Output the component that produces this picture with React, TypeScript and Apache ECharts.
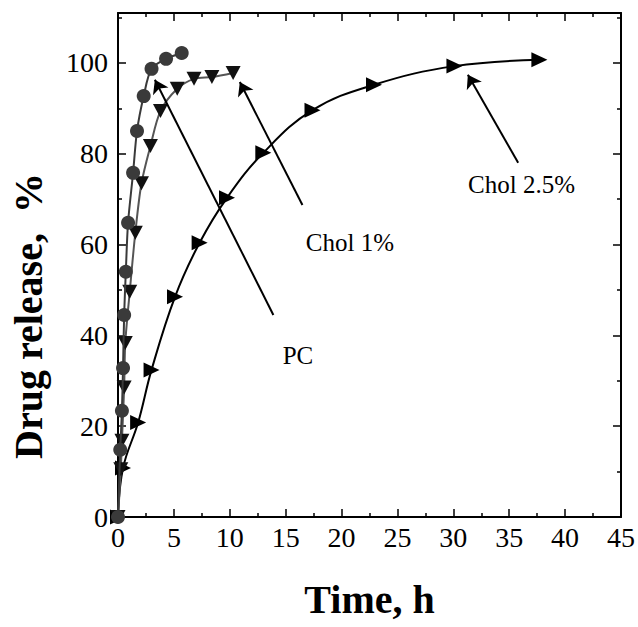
import React, { useEffect, useRef } from "react";
import * as echarts from "echarts";

const pcTime = [0, 0.2, 0.35, 0.45, 0.55, 0.7, 0.9, 1.35, 1.7, 2.3, 3.0, 4.3, 5.7];
const pcRelease = [0, 14.8, 23.4, 32.8, 44.5, 54, 64.8, 75.8, 85, 92.7, 98.7, 100.9, 102.2];

const chol1Time = [0, 0.25, 0.35, 0.55, 0.65, 1.05, 1.55, 2.1, 2.9, 3.8, 5.3, 6.8, 8.4, 10.3];
const chol1Release = [0, 10.5, 16.8, 28.5, 38.3, 49.6, 62.6, 73.5, 81.7, 89.4, 94.3, 96.5, 96.9, 97.8];

const chol25Time = [0, 0.45, 1.8, 3.0, 5.1, 7.3, 9.75, 13.0, 17.4, 22.9, 30.1, 37.7];
const chol25Release = [0, 10.8, 20.8, 32.4, 48.5, 60.4, 70.3, 80.2, 89.6, 95.2, 99.3, 100.7];

const xTicks = [0, 5, 10, 15, 20, 25, 30, 35, 40, 45];
const yTicks = [0, 20, 40, 60, 80, 100];

const annotationNames = ["PC", "Chol 1%", "Chol 2.5%"];
const arrowTails = [[13.9, 44.5], [16.5, 68.7], [35.8, 78]];
const arrowHeads = [[3.3, 96.3], [10.9, 95.8], [31.3, 97.4]];
const labelPoints = [[16.1, 35.5], [20.75, 60.4], [36.1, 73.3]];

const FONT = "'Liberation Serif', 'Times New Roman', serif";

const zip = (a: number[], b: number[]) => a.map((v, i) => [v, b[i]]);

const axisLine = () => ({ show: true, onZero: false, lineStyle: { color: "#000", width: 2 } });
const tick = () => ({ show: true, inside: true, length: 8, lineStyle: { color: "#000", width: 1.5 } });
const minor = () => ({ show: true, splitNumber: 2, length: 4, lineStyle: { color: "#000", width: 1.5 } });

export default function App() {
  const ref = useRef<HTMLDivElement>(null);
  useEffect(() => {
    if (!ref.current) return;
    const chart = echarts.init(ref.current, undefined, { renderer: "svg" });
    chart.setOption({
      animation: false,
      backgroundColor: "#fff",
      grid: { left: 118, right: 17, top: 13, bottom: 110, containLabel: false },
      xAxis: [
        {
          type: "value",
          min: 0,
          max: 45,
          interval: 5,
          position: "bottom",
          axisLine: axisLine(),
          axisTick: tick(),
          minorTick: minor(),
          splitLine: { show: false },
          minorSplitLine: { show: false },
          axisLabel: {
            color: "#000",
            fontFamily: FONT,
            fontSize: 28,
            margin: 6,
            formatter: (v: number) => (xTicks.includes(v) ? String(v) : ""),
          },
          name: "Time, h",
          nameLocation: "middle",
          nameGap: 62,
          nameTextStyle: { color: "#000", fontFamily: FONT, fontSize: 40, fontWeight: "bold" },
        },
        {
          type: "value",
          min: 0,
          max: 45,
          interval: 5,
          position: "top",
          axisLine: axisLine(),
          axisTick: tick(),
          minorTick: minor(),
          splitLine: { show: false },
          minorSplitLine: { show: false },
          axisLabel: { show: false },
        },
      ],
      yAxis: [
        {
          type: "value",
          min: 0,
          max: 111,
          interval: 20,
          position: "left",
          axisLine: axisLine(),
          axisTick: tick(),
          minorTick: minor(),
          splitLine: { show: false },
          minorSplitLine: { show: false },
          axisLabel: {
            color: "#000",
            fontFamily: FONT,
            fontSize: 28,
            margin: 10,
            formatter: (v: number) => (yTicks.includes(v) ? String(v) : ""),
          },
        },
        {
          type: "value",
          min: 0,
          max: 111,
          interval: 20,
          position: "right",
          axisLine: axisLine(),
          axisTick: tick(),
          minorTick: minor(),
          splitLine: { show: false },
          minorSplitLine: { show: false },
          axisLabel: { show: false },
        },
      ],
      graphic: [
        {
          type: "text",
          x: 28,
          y: 316,
          rotation: Math.PI / 2,
          style: {
            text: "Drug release,  %",
            fill: "#000",
            font: `bold 40px ${FONT}`,
            align: "center",
            verticalAlign: "middle",
          },
        },
      ],
      series: [
        {
          name: "Chol 2.5%",
          type: "line",
          data: zip(chol25Time, chol25Release),
          smooth: 0.4,
          symbol: "triangle",
          symbolSize: [15, 16],
          symbolRotate: -90,
          itemStyle: { color: "#000" },
          lineStyle: { color: "#000", width: 2 },
          z: 3,
          markLine: {
            silent: true,
            symbol: ["none", "arrow"],
            symbolSize: 13,
            label: { show: false },
            itemStyle: { color: "#000" },
            lineStyle: { color: "#000", width: 2, type: "solid" },
            data: arrowTails.map((t, i) => [{ coord: t }, { coord: arrowHeads[i] }]),
          },
          markPoint: {
            silent: true,
            symbol: "circle",
            symbolSize: 0,
            label: {
              show: true,
              position: "inside",
              color: "#000",
              fontFamily: FONT,
              fontSize: 25,
              formatter: (p: any) => p.name,
            },
            data: labelPoints.map((c, i) => ({ name: annotationNames[i], coord: c })),
          },
        },
        {
          name: "Chol 1%",
          type: "line",
          data: zip(chol1Time, chol1Release),
          smooth: 0.3,
          symbol: "triangle",
          symbolSize: [15, 14],
          symbolRotate: 180,
          itemStyle: { color: "#111" },
          lineStyle: { color: "#555", width: 2 },
          z: 4,
        },
        {
          name: "PC",
          type: "line",
          data: zip(pcTime, pcRelease),
          smooth: 0.3,
          symbol: "circle",
          symbolSize: 14,
          itemStyle: { color: "#3a3a3a" },
          lineStyle: { color: "#3a3a3a", width: 2 },
          z: 5,
        },
      ],
    });
    return () => chart.dispose();
  }, []);
  return (
    <div
      ref={ref}
      style={{ position: "fixed", left: 0, top: 0, width: 638, height: 627, background: "#fff" }}
    />
  );
}
